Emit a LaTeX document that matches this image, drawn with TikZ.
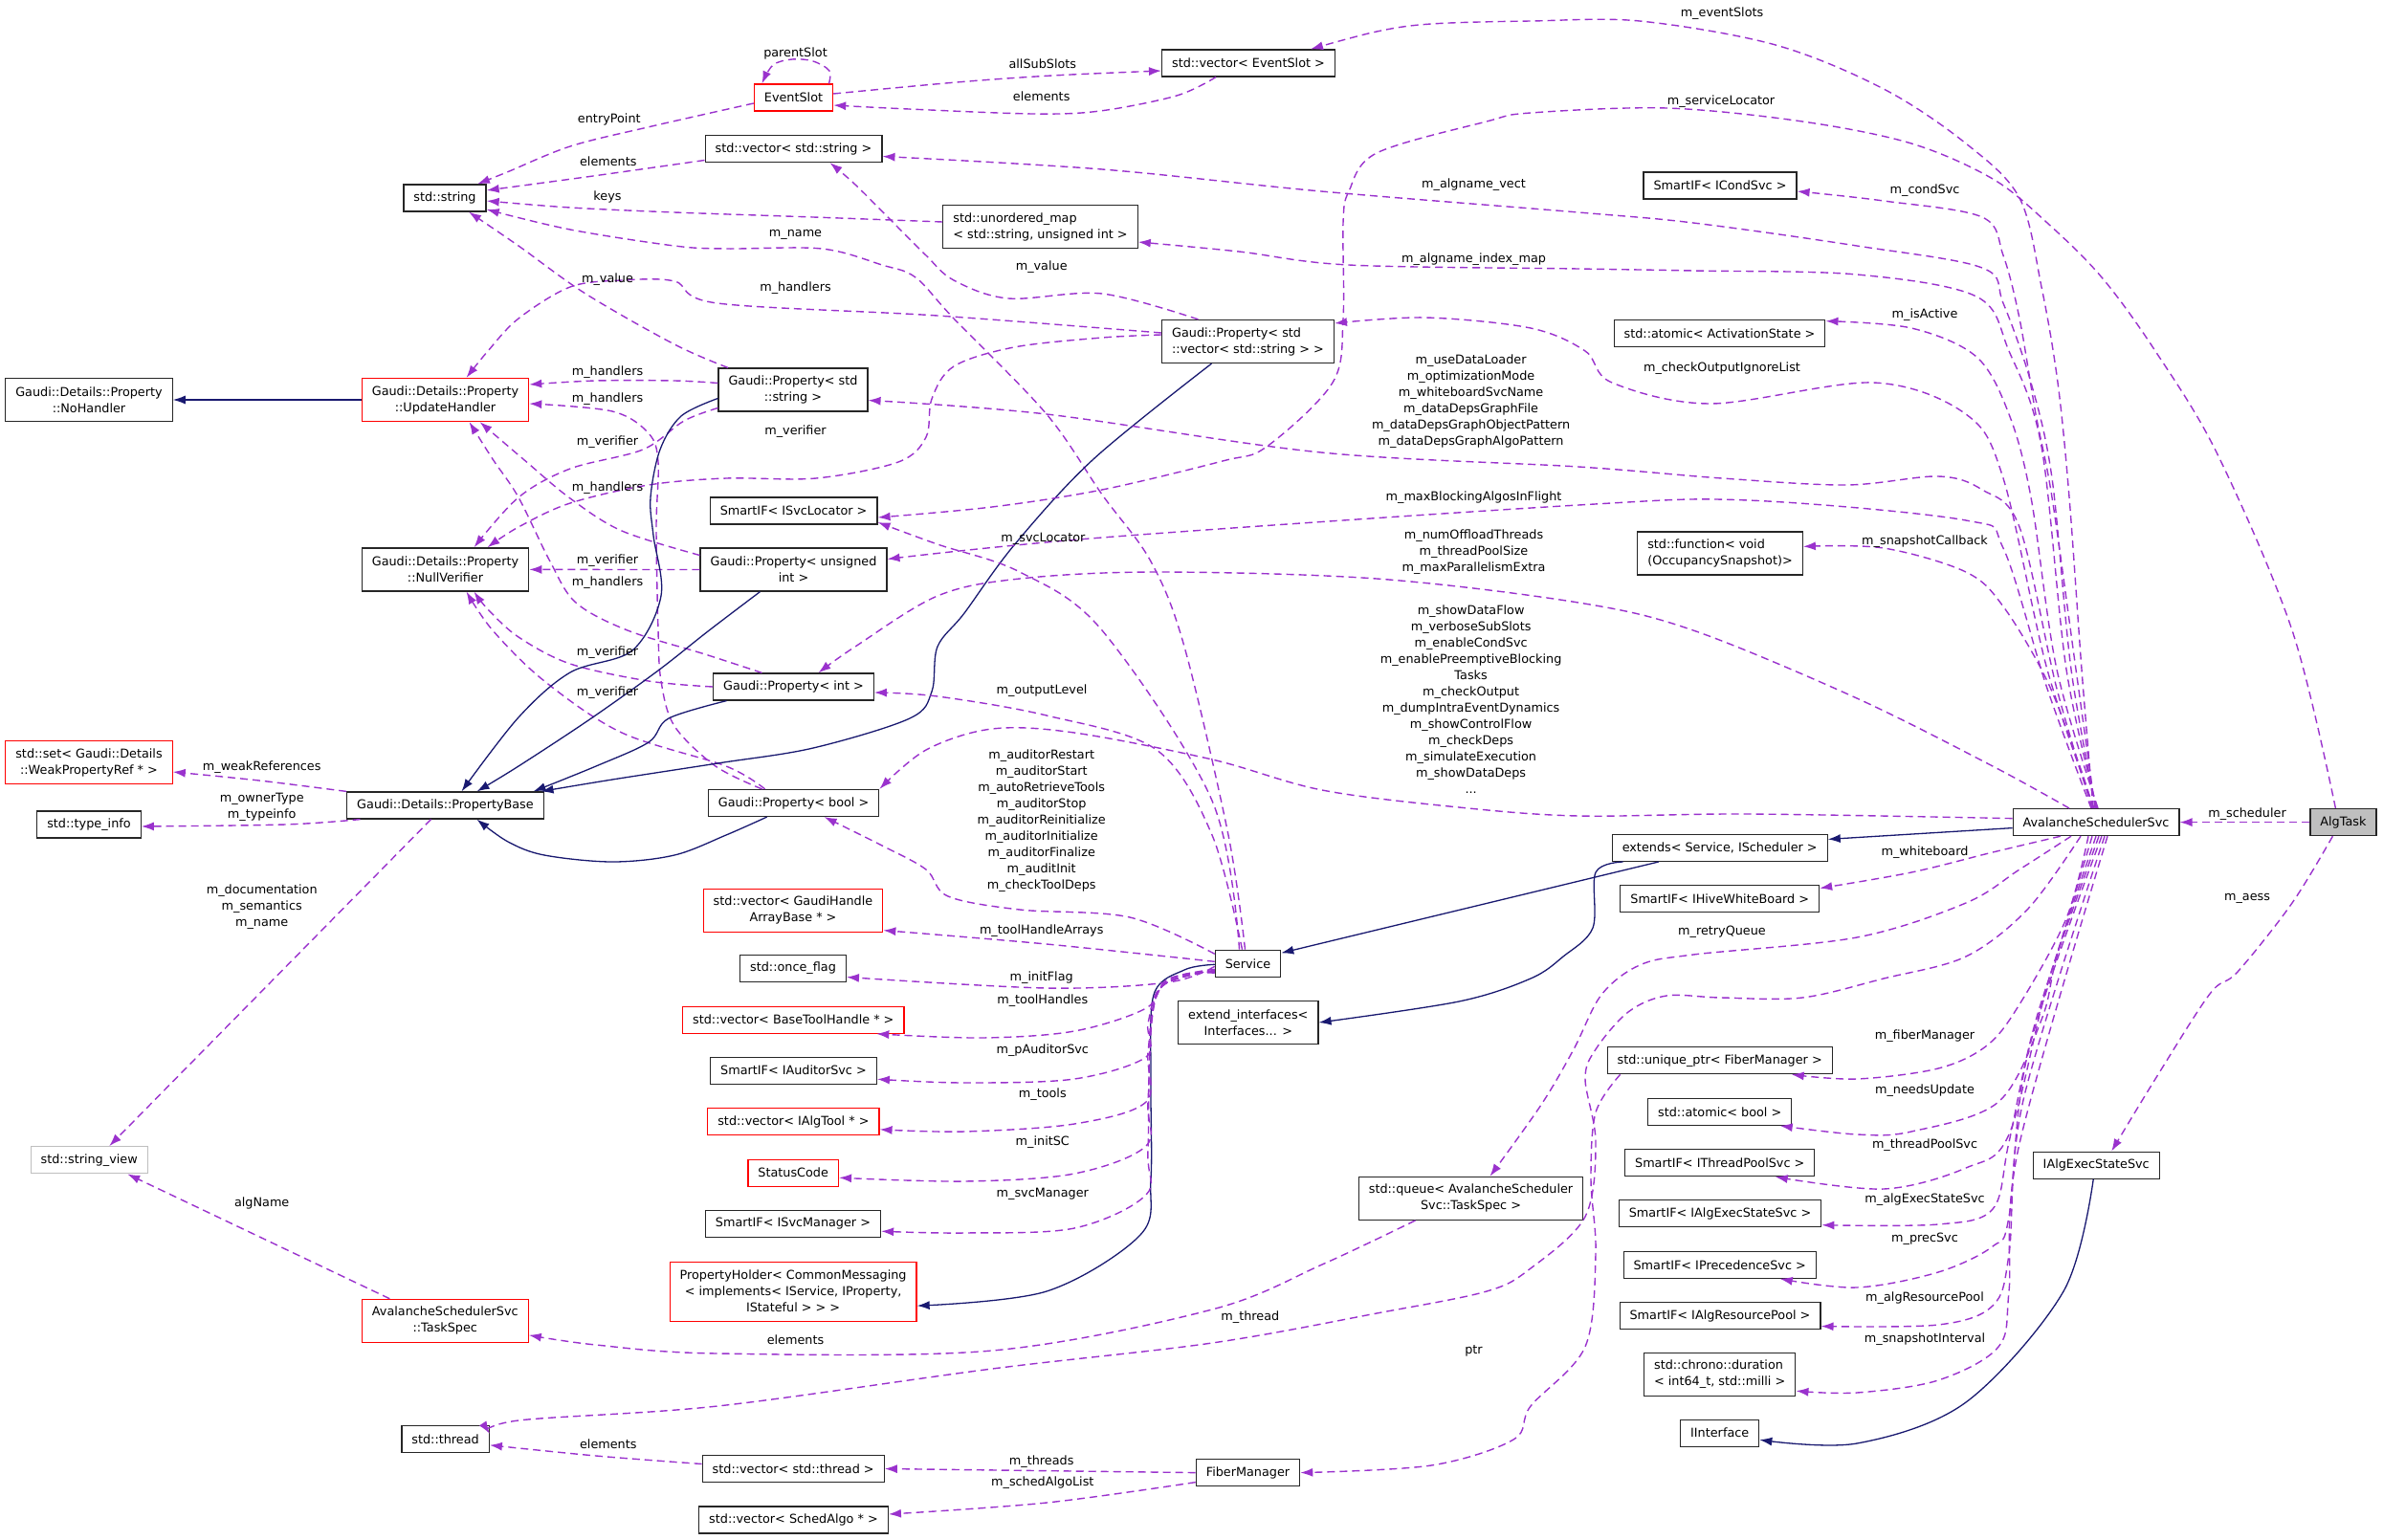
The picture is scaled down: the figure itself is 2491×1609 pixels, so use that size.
\documentclass[tikz,border=0pt]{standalone}
\usepackage{fontspec}
\setmainfont{DejaVu Sans}
\usepackage{tikz}
\usetikzlibrary{arrows.meta}

\definecolor{usecol}{HTML}{9A32CD}
\definecolor{inhcol}{HTML}{191970}
\definecolor{boxgray}{HTML}{BFBFBF}

\tikzset{
	cls/.style={draw=black!85, line width=1.2pt, fill=white, inner xsep=10.5pt, inner ysep=0pt, minimum height=28pt, font=\fontsize{12.8}{17}\selectfont, align=center},
	redcls/.style={cls, draw=red},
	graycls/.style={cls, draw=boxgray},
	twolines/.style={minimum height=45pt},
	threelines/.style={minimum height=62pt},
	lbl/.style={inner sep=0pt, font=\fontsize{12.8}{17}\selectfont, align=center},
	uses/.style={draw=usecol, line width=1.4pt, dash pattern=on 8pt off 5pt, -{Latex[length=13pt,width=9pt]}},
	inherits/.style={draw=inhcol, line width=1.3pt, -{Latex[length=13pt,width=9pt]}},
	smoothpath/.style={smooth, tension=0.55}
}

\begin{document}
\begin{tikzpicture}[x=1pt, y=-1pt]
		\useasboundingbox (0,0) rectangle (2491,1609);

		\node [redcls] (evslot) at (829.5,102) {EventSlot};
		\node [cls] (vecslot) at (1305,66) {std::vector< EventSlot >};
		\node [cls] (str) at (465,207) {std::string};
		\node [cls] (vecstr) at (829.5,155.5) {std::vector< std::string >};
		\node [cls, twolines, align=left] (umap) at (1087.5,237) {std::unordered\_map\\< std::string, unsigned int >};
		\node [cls, twolines] (nohandler) at (93,418) {Gaudi::Details::Property\\::NoHandler};
		\node [redcls, twolines] (updh) at (465.5,418) {Gaudi::Details::Property\\::UpdateHandler};
		\node [cls, twolines] (gpstr) at (829,407.5) {Gaudi::Property< std\\::string >};
		\node [cls, twolines, align=left] (gpvec) at (1304.5,357) {Gaudi::Property< std\\::vector< std::string > >};
		\node [cls, twolines] (nullver) at (465.5,595.4) {Gaudi::Details::Property\\::NullVerifier};
		\node [cls] (svcloc) at (829.6,534) {SmartIF< ISvcLocator >};
		\node [cls, twolines] (gpuint) at (829.5,595.5) {Gaudi::Property< unsigned\\int >};
		\node [cls] (gpint) at (829.5,718) {Gaudi::Property< int >};
		\node [redcls, twolines] (weakset) at (93,797) {std::set< Gaudi::Details\\::WeakPropertyRef * >};
		\node [cls] (propbase) at (465.5,842) {Gaudi::Details::PropertyBase};
		\node [cls] (typeinfo) at (93,862) {std::type\_info};
		\node [cls] (gpbool) at (829.6,839.5) {Gaudi::Property< bool >};
		\node [redcls, twolines] (vecgha) at (829,951.6) {std::vector< GaudiHandle\\ArrayBase * >};
		\node [cls] (onceflag) at (829,1012.5) {std::once\_flag};
		\node [redcls] (vecbth) at (829.3,1066.2) {std::vector< BaseToolHandle * >};
		\node [cls] (auditsvc) at (829.5,1119.2) {SmartIF< IAuditorSvc >};
		\node [redcls] (vecalgtool) at (829.4,1172.8) {std::vector< IAlgTool * >};
		\node [redcls] (statuscode) at (829.2,1226.2) {StatusCode};
		\node [cls] (svcmgr) at (829,1279.2) {SmartIF< ISvcManager >};
		\node [redcls, threelines] (propholder) at (829.1,1350.1) {PropertyHolder< CommonMessaging\\< implements< IService, IProperty,\\IStateful > > >};
		\node [redcls, twolines] (taskspec) at (465.3,1380.8) {AvalancheSchedulerSvc\\::TaskSpec};
		\node [graycls] (strview) at (93.2,1212.8) {std::string\_view};
		\node [cls] (thread) at (465.6,1504.8) {std::thread};
		\node [cls] (vecthread) at (829.2,1535.5) {std::vector< std::thread >};
		\node [cls] (vecsched) at (829.5,1589) {std::vector< SchedAlgo * >};
		\node [cls] (service) at (1304.5,1007.3) {Service};
		\node [cls, twolines] (extifs) at (1304.8,1069) {extend\_interfaces<\\Interfaces... >};
		\node [cls, twolines] (queue) at (1537.5,1252.8) {std::queue< AvalancheScheduler\\Svc::TaskSpec >};
		\node [cls] (fiber) at (1304.5,1539.6) {FiberManager};
		\node [cls] (condsvc) at (1798,194) {SmartIF< ICondSvc >};
		\node [cls] (atomact) at (1797.5,348.7) {std::atomic< ActivationState >};
		\node [cls, twolines, align=left] (func) at (1798,578.4) {std::function< void\\(OccupancySnapshot)>};
		\node [cls] (extends) at (1797.7,886.4) {extends< Service, IScheduler >};
		\node [cls] (whiteboard) at (1797.7,939.6) {SmartIF< IHiveWhiteBoard >};
		\node [cls] (uptr) at (1797.7,1108.7) {std::unique\_ptr< FiberManager >};
		\node [cls] (atombool) at (1797.7,1162.3) {std::atomic< bool >};
		\node [cls] (threadpool) at (1797.7,1215.7) {SmartIF< IThreadPoolSvc >};
		\node [cls] (execsvc) at (1798,1268.7) {SmartIF< IAlgExecStateSvc >};
		\node [cls] (precsvc) at (1797.7,1322.3) {SmartIF< IPrecedenceSvc >};
		\node [cls] (respool) at (1798,1375.5) {SmartIF< IAlgResourcePool >};
		\node [cls, twolines, align=left] (chrono) at (1797.7,1437.1) {std::chrono::duration\\< int64\_t, std::milli >};
		\node [cls] (iiface) at (1797.7,1498.2) {IInterface};
		\node [cls] (sched) at (2191,859.6) {AvalancheSchedulerSvc};
		\node [cls, fill=boxgray] (algtask) at (2449.4,859.6) {AlgTask};
		\node [cls] (iaess) at (2191.2,1218.2) {IAlgExecStateSvc};

		\draw [uses] plot [smoothpath] coordinates {([xshift=37]evslot.north) (867,74) (850,64) (828,62) (808,68) ([xshift=-33]evslot.north)};
		\draw [uses] plot [smoothpath] coordinates {([yshift=-6]evslot.west) (677,133) (596,153) (530,180) ([xshift=34]str.north)};
		\draw [uses] plot [smoothpath] coordinates {([yshift=4]evslot.east) (1000,86) (1100,79) ([yshift=-8]vecslot.west)};
		\draw [uses] plot [smoothpath] coordinates {([xshift=-34]vecslot.south) (1230,100) (1150,116) (1080,119) (950,114) ([yshift=-8]evslot.east)};
		\draw [uses] plot [smoothpath] coordinates {([yshift=-12]vecstr.west) (620,184) ([yshift=8]str.east)};
		\draw [uses] plot [smoothpath] coordinates {([yshift=5]umap.west) (850,227) (705,222) (596,217) ([yshift=-3]str.east)};
		\draw [uses] plot [smoothpath] coordinates {([xshift=-3]service.north) (1284,873) (1238,676) (1203,587) (1152,517) (1094,433) (997,333) (957,290) (922,277) (859,260) (759,260) (705,257) (596,240) ([yshift=-12]str.east)};
		\draw [uses] plot [smoothpath] coordinates {([xshift=-68]gpstr.north) (705,360) (612,307) (542,257) ([xshift=25]str.south)};
		\draw [uses] plot [smoothpath] coordinates {([xshift=-52]gpvec.north) (1152,307) (1054,312) (997,293) (968,267) (934,233) (894,193) ([xshift=38]vecstr.south)};

		\draw [uses] plot [smoothpath] coordinates {([yshift=9]gpvec.west) (980,330) (750,317) (705,294) (650,293) (596,300) (542,333) (510,367) ([xshift=22]updh.north)};
		\draw [uses] plot [smoothpath] coordinates {([yshift=7]gpstr.west) (705,398) (623,398) ([yshift=16]updh.east)};
		\draw [uses] plot [smoothpath] coordinates {([xshift=-33]gpbool.north) (748,801) (705,759) (691,712) (688,659) (686,551) (688,483) (678,453) (640,430) ([yshift=-4]updh.east)};
		\draw [uses] plot [smoothpath] coordinates {([xshift=-33]gpint.north) (737,684) (656,659) (602,630) (575,587) (542,520) (515,480) ([xshift=25]updh.south)};
		\draw [uses] plot [smoothpath] coordinates {([yshift=15]gpuint.west) (650,555) (596,521) (547,480) ([xshift=36]updh.south)};

		\draw [uses] (gpuint.west) -- (nullver.east);
		\draw [uses] plot [smoothpath] coordinates {(gpint.west) (678,712) (596,694) (542,666) (510,637) ([xshift=30]nullver.south)};
		\draw [uses] plot [smoothpath] coordinates {([xshift=-30]gpbool.north) (759,801) (650,766) (569,712) (515,659) ([xshift=22]nullver.south)};
		\draw [uses] plot [smoothpath] coordinates {([yshift=-19]gpstr.west) (715,440) (672,470) (596,490) (542,520) ([xshift=30]nullver.north)};
		\draw [uses] plot [smoothpath] coordinates {([yshift=7]gpvec.west) (1152,353) (1060,363) (997,383) (974,417) (968,457) (939,483) (853,500) (759,500) (678,507) (596,526) (542,551) ([xshift=44]nullver.north)};

		\draw [inherits] (updh.west) -- (nohandler.east);
		\draw [inherits] plot [smoothpath] coordinates {([yshift=-9]gpstr.west) (712,435) (690,470) (680,520) (683,560) (691,623) (661,680) (596,703) (542,750) ([xshift=17]propbase.north)};
		\draw [inherits] plot [smoothpath] coordinates {([xshift=-35]gpuint.south) (740,660) (688,701) (618,751) (542,801) ([xshift=33]propbase.north)};
		\draw [inherits] plot [smoothpath] coordinates {([xshift=-70]gpint.south) (699,751) (678,776) (623,801) ([xshift=92]propbase.north)};
		\draw [inherits] plot [smoothpath] coordinates {([xshift=-38]gpvec.south) (1143,480) (1060,570) (1008,641) (980,676) (974,723) (951,751) (850,782) (750,798) (640,815) ([xshift=100]propbase.north)};
		\draw [inherits] plot [smoothpath] coordinates {([xshift=-28]gpbool.south) (759,873) (705,894) (640,901) (569,894) (531,880) ([xshift=33]propbase.south)};
		\draw [inherits] ([yshift=-6]sched.west) -- ([yshift=9]extends.east);
		\draw [inherits] ([xshift=-64]extends.south) -- ([yshift=11]service.east);
		\draw [inherits] plot [smoothpath] coordinates {([xshift=-101]extends.south) (1668,912) (1665,970) (1634,1000) (1600,1023) (1525,1047) (extifs.east)};
		\draw [inherits] plot [smoothpath] coordinates {([yshift=-1]service.west) (1238,1014) (1206,1040) (1203,1130) (1203,1233) (1192,1291) (1094,1350) ([yshift=-15]propholder.east)};
		\draw [inherits] plot [smoothpath] coordinates {([xshift=-3]iaess.south) (2157,1350) (2055,1466) (1941,1509) ([yshift=-7]iiface.east)};

		\draw [uses] plot [smoothpath] coordinates {([xshift=-3]sched.north) (2176,700) (2163,520) (2151,400) (2134,300) (2111,207) (2055,150) (1969,93) (1856,47) (1714,22) (1600,22) (1496,25) (1439,33) ([xshift=65]vecslot.north)};
		\draw [uses] plot [smoothpath] coordinates {([xshift=-8]algtask.north) (2396,659) (2318,475) (2253,367) (2197,290) (2140,233) (2083,187) (1998,150) (1884,127) (1742,113) (1600,118) (1554,127) (1439,160) (1410,200) (1404,233) (1404,333) (1393,400) (1324,467) (1278,482) (1152,512) (1037,530) ([yshift=-7]svcloc.east)};
		\draw [uses] plot [smoothpath] coordinates {([xshift=-1]sched.north) (2170,700) (2145,520) (2128,433) (2111,333) (2094,267) (2072,227) (1969,210) ([yshift=-6]condsvc.east)};
		\draw [uses] plot [smoothpath] coordinates {(sched.north) (2165,700) (2145,500) (2123,400) (2094,317) (2072,280) (1941,257) (1770,233) (1650,222) (1381,200) (1152,177) ([yshift=-8]vecstr.east)};
		\draw [uses] plot [smoothpath] coordinates {([xshift=1]sched.north) (2160,700) (2134,467) (2100,367) (2066,310) (1941,287) (1770,283) (1650,281) (1410,277) (1295,263) ([yshift=-16]umap.east)};
		\draw [uses] plot [smoothpath] coordinates {([xshift=2]sched.north) (2150,700) (2123,520) (2100,433) (2066,373) (1998,343) ([yshift=13]atomact.east)};
		\draw [uses] plot [smoothpath] coordinates {([xshift=-2]sched.north) (2140,700) (2094,500) (2055,433) (1958,400) (1788,422) (1685,400) (1657,367) (1600,343) (1490,332) ([yshift=19]gpvec.east)};
		\draw [uses] plot [smoothpath] coordinates {([xshift=-4]sched.north) (2150,720) (2111,551) (2072,512) (2026,498) (1930,507) (1800,500) (1650,488) (1381,473) (1094,433) ([yshift=-11]gpstr.east)};
		\draw [uses] plot [smoothpath] coordinates {([xshift=-5]sched.north) (2140,720) (2094,573) (2055,544) (1827,523) (1650,528) (1152,562) ([yshift=11]gpuint.east)};
		\draw [uses] plot [smoothpath] coordinates {([xshift=-28]sched.north) (2083,801) (1941,730) (1770,659) (1650,630) (1439,605) (1209,598) (1066,605) (980,623) (894,676) ([xshift=26]gpint.north)};
		\draw [uses] plot [smoothpath] coordinates {([yshift=4]sched.west) (1827,851) (1650,853) (1525,844) (1382,826) (1267,794) (1123,766) (1037,762) (968,784) (gpbool.north east)};
		\draw [uses] plot [smoothpath] coordinates {([xshift=-3]sched.north) (2174,801) (2140,712) (2094,634) (2055,598) (1969,573) ([yshift=7]func.east)};
		\draw [uses] (algtask.west) -- (sched.east);
		\draw [uses] plot [smoothpath] coordinates {([xshift=-11]algtask.south) (2396,944) (2339,1016) (2310,1039) (2253,1128) ([xshift=16]iaess.north)};

		\draw [uses] plot [smoothpath] coordinates {([xshift=-37]sched.south) (2083,891) (1998,912) ([yshift=11]whiteboard.east)};
		\draw [uses] plot [smoothpath] coordinates {([xshift=-26]sched.south) (2111,909) (2055,944) (1941,980) (1770,998) (1714,1009) (1674,1040) (1645,1097) (1611,1155) ([xshift=20]queue.north)};
		\draw [uses] plot [smoothpath] coordinates {([xshift=-16]sched.south) (2120,950) (2055,1000) (1969,1023) (1884,1043) (1799,1043) (1742,1041) (1702,1058) (1668,1097) (1657,1128) (1668,1194) (1657,1272) (1600,1326) (1554,1350) (1439,1373) (1267,1404) (1037,1431) (750,1470) (542,1485) ([yshift=6]thread.east)};
		\draw [uses] plot [smoothpath] coordinates {([xshift=-104]uptr.south) (1668,1163) (1663,1233) (1668,1311) (1657,1408) (1600,1470) (1582,1505) (1496,1532) (fiber.east)};
		\draw [uses] plot [smoothpath] coordinates {([xshift=-8]sched.south) (2160,960) (2111,1050) (2077,1093) (2026,1117) (1941,1128) ([xshift=75]uptr.south)};
		\draw [uses] plot [smoothpath] coordinates {([xshift=-4]sched.south) (2150,1000) (2134,1066) (2089,1152) (1998,1183) (1941,1186) ([xshift=63]atombool.south)};
		\draw [uses] plot [smoothpath] coordinates {(sched.south) (2140,1030) (2100,1186) (2055,1221) (1969,1243) ([xshift=58]threadpool.south)};
		\draw [uses] plot [smoothpath] coordinates {([xshift=3]sched.south) (2130,1060) (2100,1194) (2083,1264) (2026,1280) ([yshift=-12]execsvc.east)};
		\draw [uses] plot [smoothpath] coordinates {([xshift=6]sched.south) (2120,1100) (2100,1272) (2083,1303) (2026,1330) (1941,1346) ([xshift=63]precsvc.south)};
		\draw [uses] plot [smoothpath] coordinates {([xshift=9]sched.south) (2115,1150) (2100,1311) (2083,1365) (2026,1385) ([yshift=-11]respool.east)};
		\draw [uses] plot [smoothpath] coordinates {([xshift=12]sched.south) (2110,1200) (2100,1350) (2089,1408) (2026,1443) (1941,1456) ([yshift=-17]chrono.east)};

		\draw [uses] plot [smoothpath] coordinates {([xshift=-9]service.north) (1267,837) (1152,659) (1066,598) (980,569) ([yshift=-12]svcloc.east)};
		\draw [uses] plot [smoothpath] coordinates {([xshift=-6]service.north) (1267,873) (1209,784) (1094,748) (980,728) ([yshift=-6]gpint.east)};
		\draw [uses] plot [smoothpath] coordinates {([yshift=10]service.west) (1181,959) (1066,951) (991,937) (968,909) (922,884) ([xshift=32]gpbool.south)};
		\draw [uses] plot [smoothpath] coordinates {([yshift=2]service.west) (1094,987) ([yshift=-21]vecgha.east)};
		\draw [uses] plot [smoothpath] coordinates {([yshift=-3]service.west) (1221,1027) (1094,1033) ([yshift=-9]onceflag.east)};
		\draw [uses] plot [smoothpath] coordinates {([yshift=-6]service.west) (1220,1024) (1198,1054) (1123,1078) (1026,1085) ([xshift=87]vecbth.south)};
		\draw [uses] plot [smoothpath] coordinates {([yshift=-7]service.west) (1215,1030) (1200,1070) (1198,1105) (1123,1128) (1008,1132) ([yshift=-9]auditsvc.east)};
		\draw [uses] plot [smoothpath] coordinates {([yshift=-8]service.west) (1213,1033) (1200,1100) (1198,1152) (1123,1175) (1008,1183) ([yshift=-8]vecalgtool.east)};
		\draw [uses] plot [smoothpath] coordinates {([yshift=-9]service.west) (1211,1036) (1200,1150) (1198,1198) (1123,1227) (1008,1235) ([yshift=-5]statuscode.east)};
		\draw [uses] plot [smoothpath] coordinates {([yshift=-10]service.west) (1209,1039) (1200,1200) (1198,1249) (1123,1284) (1008,1289) ([yshift=-8]svcmgr.east)};

		\draw [uses] plot [smoothpath] coordinates {([xshift=-58]queue.south) (1382,1322) (1267,1369) (1037,1412) (750,1415) (623,1406) ([yshift=-15]taskspec.east)};
		\draw [uses] ([xshift=-58]taskspec.north) -- ([xshift=40]strview.south);
		\draw [uses] ([xshift=-15]propbase.south) -- ([xshift=21]strview.north);
		\draw [uses] plot [smoothpath] coordinates {(propbase.north west) (271,816) ([yshift=-10]weakset.east)};
		\draw [uses] plot [smoothpath] coordinates {([xshift=-89]propbase.south) (298,862) ([yshift=-2]typeinfo.east)};
		\draw [uses] plot [smoothpath] coordinates {([yshift=5]vecthread.west) (623,1522) ([yshift=-6]thread.east)};
		\draw [uses] (fiber.west) -- (vecthread.east);
		\draw [uses] plot [smoothpath] coordinates {([yshift=-10]fiber.west) (1094,1571) ([yshift=6]vecsched.east)};

		\node [lbl] (lparent) at (831.5,55.7) {parentSlot};
		\node [lbl] (lentry) at (636.8,125) {entryPoint};
		\node [lbl] (lsubslots) at (1089.8,66.7) {allSubSlots};
		\node [lbl] (lslotelems) at (1088.7,100.7) {elements};
		\node [lbl] (lstrelems) at (635.8,168.3) {elements};
		\node [lbl] (lkeys) at (635,205.7) {keys};
		\node [lbl] (lname) at (831.5,245.7) {m\_name};
		\node [lbl] (lvalstr) at (635,292.3) {m\_value};
		\node [lbl] (lvalvec) at (1088.7,278.7) {m\_value};
		\node [lbl] (lhandvec) at (831.5,300.7) {m\_handlers};
		\node [lbl] (lhandstr) at (635,389.3) {m\_handlers};
		\node [lbl] (lhandbool) at (635,416.7) {m\_handlers};
		\node [lbl] (lhanduint) at (635,510) {m\_handlers};
		\node [lbl] (lhandint) at (635,609.6) {m\_handlers};
		\node [lbl] (lverstr) at (635,461.7) {m\_verifier};
		\node [lbl] (lvervec) at (831.5,450.7) {m\_verifier};
		\node [lbl] (lveruint) at (635,586.4) {m\_verifier};
		\node [lbl] (lverint) at (635,681.8) {m\_verifier};
		\node [lbl] (lverbool) at (635,724.6) {m\_verifier};
		\node [lbl] (lweak) at (273.7,802.5) {m\_weakReferences};
		\node [lbl] (lowner) at (273.7,844.3) {m\_ownerType\\m\_typeinfo};
		\node [lbl] (ldoc) at (273.7,948) {m\_documentation\\m\_semantics\\m\_name};
		\node [lbl] (lalgname) at (273.7,1257.5) {algName};
		\node [lbl] (lqueueelems) at (831.5,1401.2) {elements};
		\node [lbl] (lthreadelems) at (635.8,1509.5) {elements};
		\node [lbl] (lthreads) at (1088.7,1528) {m\_threads};
		\node [lbl] (lschedalgo) at (1089.8,1550.3) {m\_schedAlgoList};
		\node [lbl] (lthread) at (1306.8,1377.5) {m\_thread};
		\node [lbl] (lptr) at (1540.5,1412.8) {ptr};
		\node [lbl] (lsvcloc) at (1090.4,562.9) {m\_svcLocator};
		\node [lbl] (loutput) at (1089,721.8) {m\_outputLevel};
		\node [lbl] (lauditor) at (1088.7,857.7) {m\_auditorRestart\\m\_auditorStart\\m\_autoRetrieveTools\\m\_auditorStop\\m\_auditorReinitialize\\m\_auditorInitialize\\m\_auditorFinalize\\m\_auditInit\\m\_checkToolDeps};
		\node [lbl] (lgha) at (1088.7,973.6) {m\_toolHandleArrays};
		\node [lbl] (linitflag) at (1088.7,1021.7) {m\_initFlag};
		\node [lbl] (ltoolhandles) at (1089.8,1046.6) {m\_toolHandles};
		\node [lbl] (lpaudit) at (1089.8,1097.9) {m\_pAuditorSvc};
		\node [lbl] (ltools) at (1089.8,1144.5) {m\_tools};
		\node [lbl] (linitsc) at (1089.8,1194) {m\_initSC};
		\node [lbl] (lsvcmgr) at (1089.8,1248.5) {m\_svcManager};
		\node [lbl] (lalgvect) at (1540.5,193.3) {m\_algname\_vect};
		\node [lbl] (lalgmap) at (1540.5,270.7) {m\_algname\_index\_map};
		\node [lbl] (lloader) at (1537.6,420) {m\_useDataLoader\\m\_optimizationMode\\m\_whiteboardSvcName\\m\_dataDepsGraphFile\\m\_dataDepsGraphObjectPattern\\m\_dataDepsGraphAlgoPattern};
		\node [lbl] (lblocking) at (1540.5,520.4) {m\_maxBlockingAlgosInFlight};
		\node [lbl] (loffload) at (1540.5,577.5) {m\_numOffloadThreads\\m\_threadPoolSize\\m\_maxParallelismExtra};
		\node [lbl] (ldataflow) at (1537.6,731.6) {m\_showDataFlow\\m\_verboseSubSlots\\m\_enableCondSvc\\m\_enablePreemptiveBlocking\\Tasks\\m\_checkOutput\\m\_dumpIntraEventDynamics\\m\_showControlFlow\\m\_checkDeps\\m\_simulateExecution\\m\_showDataDeps\\...};
		\node [lbl] (levslots) at (1800,14) {m\_eventSlots};
		\node [lbl] (lsvclocator) at (1799,105.7) {m\_serviceLocator};
		\node [lbl] (lcond) at (2012,199) {m\_condSvc};
		\node [lbl] (lactive) at (2012,329) {m\_isActive};
		\node [lbl] (lignore) at (1800,385) {m\_checkOutputIgnoreList};
		\node [lbl] (lsnapcb) at (2012,565.7) {m\_snapshotCallback};
		\node [lbl] (lsched) at (2349,850.7) {m\_scheduler};
		\node [lbl] (lwhite) at (2012,890.7) {m\_whiteboard};
		\node [lbl] (laess) at (2349,939) {m\_aess};
		\node [lbl] (lretry) at (1800,974.6) {m\_retryQueue};
		\node [lbl] (lfiber) at (2012,1082.7) {m\_fiberManager};
		\node [lbl] (lneeds) at (2012,1140.6) {m\_needsUpdate};
		\node [lbl] (lpool) at (2012,1197.3) {m\_threadPoolSvc};
		\node [lbl] (lexec) at (2012,1254.4) {m\_algExecStateSvc};
		\node [lbl] (lprec) at (2012,1295) {m\_precSvc};
		\node [lbl] (lres) at (2012,1357.3) {m\_algResourcePool};
		\node [lbl] (lsnapint) at (2012,1400) {m\_snapshotInterval};
\end{tikzpicture}
\end{document}
